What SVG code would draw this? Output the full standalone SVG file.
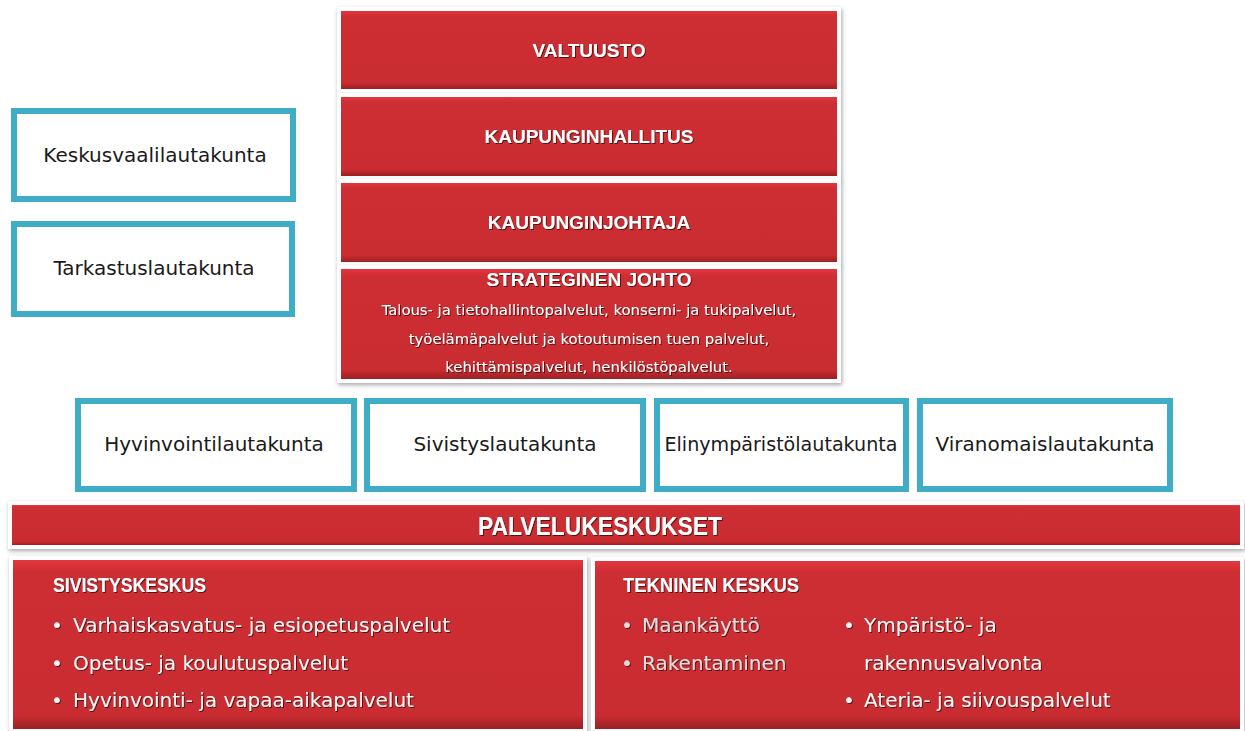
<svg xmlns="http://www.w3.org/2000/svg" width="1245" height="731" viewBox="0 0 1245 731">
<defs>
<linearGradient id="red" x1="0" y1="0" x2="0" y2="1">
<stop offset="0" stop-color="#e3363d"/>
<stop offset="0.07" stop-color="#cd2e33"/>
<stop offset="0.92" stop-color="#c92c31"/>
<stop offset="1" stop-color="#9a2024"/>
</linearGradient>
<filter id="sh" x="-5%" y="-20%" width="110%" height="150%">
<feDropShadow dx="1" dy="2" stdDeviation="2" flood-color="#000" flood-opacity="0.35"/>
</filter>
<filter id="ts" x="-5%" y="-30%" width="110%" height="160%">
<feDropShadow dx="1" dy="1" stdDeviation="0.5" flood-color="#3a0a0a" flood-opacity="0.85"/>
</filter>
<style>
.frame{fill:#ffffff;filter:url(#sh)}
.red{fill:url(#red)}
.cy{fill:#ffffff;stroke:#3eadc5;stroke-width:6}
.lbl{font-family:"DejaVu Sans","Liberation Sans",sans-serif;font-size:20px;fill:#1a1a1a;text-anchor:middle}
.ttl{font-family:"Liberation Sans","DejaVu Sans",sans-serif;font-weight:bold;font-size:19px;fill:#ffffff;text-anchor:middle;filter:url(#ts)}
.sub{font-family:"DejaVu Sans","Liberation Sans",sans-serif;font-size:14.8px;fill:#ffffff;text-anchor:middle;filter:url(#ts)}
.it{font-family:"DejaVu Sans","Liberation Sans",sans-serif;font-size:20px;fill:#fbf6f6;filter:url(#ts)}
.itg{font-family:"DejaVu Sans","Liberation Sans",sans-serif;font-size:20px;fill:#e6dcdc;filter:url(#ts)}
.hd{font-family:"Liberation Sans","DejaVu Sans",sans-serif;font-weight:bold;font-size:20px;fill:#ffffff;filter:url(#ts)}
</style>
</defs>
<rect width="1245" height="731" fill="#ffffff"/>
<g id="connectors"></g>

<g id="valtuusto">
<rect class="frame" x="337" y="7" width="504" height="86"/>
<rect class="red" x="341" y="11" width="496" height="78"/>
<text class="ttl" x="589" y="57">VALTUUSTO</text>
</g>
<g id="kaupunginhallitus">
<rect class="frame" x="337" y="93" width="504" height="87"/>
<rect class="red" x="341" y="97" width="496" height="79"/>
<text class="ttl" x="589" y="143">KAUPUNGINHALLITUS</text>
</g>
<g id="kaupunginjohtaja">
<rect class="frame" x="337" y="179" width="504" height="87"/>
<rect class="red" x="341" y="183" width="496" height="79"/>
<text class="ttl" x="589" y="229">KAUPUNGINJOHTAJA</text>
</g>
<g id="strateginen-johto">
<rect class="frame" x="337" y="265" width="504" height="118"/>
<rect class="red" x="341" y="269" width="496" height="110"/>
<text class="ttl" x="589" y="286">STRATEGINEN JOHTO</text>
<text class="sub" x="589" y="315">Talous- ja tietohallintopalvelut, konserni- ja tukipalvelut,</text>
<text class="sub" x="589" y="344">työelämäpalvelut ja kotoutumisen tuen palvelut,</text>
<text class="sub" x="589" y="372">kehittämispalvelut, henkilöstöpalvelut.</text>
</g>

<g id="keskusvaalilautakunta">
<rect class="cy" x="14" y="111" width="279" height="88"/>
<text class="lbl" x="155" y="162">Keskusvaalilautakunta</text>
</g>
<g id="tarkastuslautakunta">
<rect class="cy" x="14" y="224" width="278" height="90"/>
<text class="lbl" x="154" y="275">Tarkastuslautakunta</text>
</g>

<g id="hyvinvointilautakunta">
<rect class="cy" x="78" y="401" width="276" height="88"/>
<text class="lbl" x="214" y="451">Hyvinvointilautakunta</text>
</g>
<g id="sivistyslautakunta">
<rect class="cy" x="367" y="401" width="276" height="88"/>
<text class="lbl" x="505" y="451">Sivistyslautakunta</text>
</g>
<g id="elinymparistolautakunta">
<rect class="cy" x="657" y="401" width="249" height="88"/>
<text class="lbl" x="781" y="451" textLength="233" lengthAdjust="spacingAndGlyphs">Elinympäristölautakunta</text>
</g>
<g id="viranomaislautakunta">
<rect class="cy" x="920" y="401" width="250" height="88"/>
<text class="lbl" x="1045" y="451">Viranomaislautakunta</text>
</g>

<g id="palvelukeskukset">
<rect class="frame" x="8" y="501" width="1236" height="48"/>
<rect class="red" x="12" y="505" width="1228" height="40"/>
<text class="ttl" x="600" y="535" style="font-size:26px" textLength="244" lengthAdjust="spacingAndGlyphs">PALVELUKESKUKSET</text>
</g>

<g id="sivistyskeskus">
<rect class="frame" x="9" y="556" width="578" height="177"/>
<rect class="red" x="13" y="560" width="570" height="169"/>
<text class="hd" x="53" y="592" textLength="153" lengthAdjust="spacingAndGlyphs">SIVISTYSKESKUS</text>
<text class="it" x="51" y="632">•</text>
<text class="it" x="73" y="632">Varhaiskasvatus- ja esiopetuspalvelut</text>
<text class="it" x="51" y="670">•</text>
<text class="it" x="73" y="670">Opetus- ja koulutuspalvelut</text>
<text class="it" x="51" y="707">•</text>
<text class="it" x="73" y="707">Hyvinvointi- ja vapaa-aikapalvelut</text>
</g>

<g id="tekninen-keskus">
<rect class="frame" x="591" y="557" width="653" height="176"/>
<rect class="red" x="595" y="561" width="645" height="168"/>
<text class="hd" x="623" y="592" textLength="176" lengthAdjust="spacingAndGlyphs">TEKNINEN KESKUS</text>
<text class="itg" x="621" y="632">•</text>
<text class="itg" x="642" y="632">Maankäyttö</text>
<text class="itg" x="621" y="670">•</text>
<text class="itg" x="642" y="670">Rakentaminen</text>
<text class="it" x="843" y="632">•</text>
<text class="it" x="864" y="632">Ympäristö- ja</text>
<text class="it" x="864" y="670">rakennusvalvonta</text>
<text class="it" x="843" y="707">•</text>
<text class="it" x="864" y="707">Ateria- ja siivouspalvelut</text>
</g>
</svg>
